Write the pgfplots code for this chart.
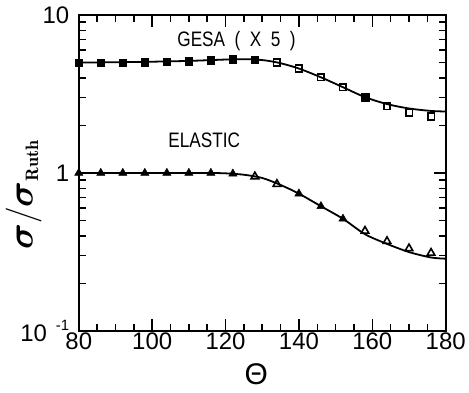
\RequirePackage{fix-cm}
\documentclass[border=0pt]{standalone}
\usepackage{fontspec}
\usepackage{amsmath}
\usepackage{pgfplots}
\pgfplotsset{compat=1.18}
\newfontfamily\hv{Liberation Sans}
\newfontfamily\hvn[FakeStretch=0.82]{Liberation Sans}
\begin{document}
\begin{tikzpicture}
\begin{axis}[
  name=ax,
  ymode=log,
  xmin=80, xmax=180, ymin=0.1, ymax=10,
  width=368pt, height=317pt, scale only axis,
  xtick={80,100,...,180}, minor x tick num=3,
  ytick={0.1,1,10},
  yticklabels={10\hspace{9pt}\raisebox{11pt}{\fontsize{15}{16}\selectfont -1},1,10},
  minor ytick={0.2,0.3,0.4,0.5,0.6,0.7,0.8,0.9,2,3,4,5,6,7,8,9},
  tick align=inside, xtick pos=both, ytick pos=both,
  major tick length=12pt, minor tick length=7pt,
  every tick/.style={black, line width=1.5pt},
  axis line style={line width=2pt},
  tick label style={font=\hv\fontsize{24}{26}\selectfont},
  yticklabel style={xshift=-6pt},
  xticklabel style={yshift=2pt},
  /pgf/number format/assume math mode=true,
  ylabel={$\boldsymbol{\sigma}/\boldsymbol{\sigma}_{\scriptscriptstyle\mathbf{Ruth}}$},
  ylabel style={font=\fontsize{36}{40}\selectfont, at={(axis description cs:-0.15,0.43)}, anchor=center},
  xlabel={\hv Θ},
  xlabel style={font=\fontsize{30}{32}\selectfont, at={(axis description cs:0.484,-0.135)}, anchor=center},
  clip=false,
]
% GESA curve
\addplot[black, line width=1.8pt, smooth, tension=0.5] coordinates {
(80,5.0)(90,5.02)(100,5.06)(110,5.12)(116,5.18)(122,5.24)(127,5.24)(131,5.15)(135,4.95)(140,4.58)(146,4.03)(152,3.49)(158,3.02)(164,2.73)(170,2.56)(176,2.47)(180,2.45)};
% Elastic curve
\addplot[black, line width=1.8pt, smooth, tension=0.5] coordinates {
(80,1)(100,1)(115,1.0)(120,0.995)(125,0.975)(130,0.93)(135,0.84)(140,0.74)(146,0.616)(152,0.513)(158,0.41)(164,0.356)(170,0.316)(176,0.292)(180,0.287)};
% GESA filled squares
\addplot[only marks, mark=square*, mark size=3.8pt, mark options={fill=black, draw=black}] coordinates {
(80,5.0)(86,5.0)(92,5.0)(98,5.02)(104,5.05)(110,5.08)(116,5.18)(122,5.25)(128,5.2)(158,3.02)};
% GESA open squares
\addplot[only marks, mark=square, mark size=3.3pt, mark options={draw=black, fill=white, line width=1.6pt}] coordinates {
(134,5.0)(140,4.58)(146,4.03)(152,3.49)(164,2.64)(170,2.41)(176,2.28)};
% Elastic filled triangles
\addplot[only marks, mark=triangle*, mark size=4.8pt, mark options={fill=black, draw=black}] coordinates {
(80,1.0)(86,1.0)(92,1.0)(98,1.0)(104,1.0)(110,1.0)(116,1.0)(122,0.99)(140,0.74)(146,0.616)(152,0.513)};
% Elastic open triangles
\addplot[only marks, mark=triangle, mark size=4.4pt, mark options={draw=black, fill=white, line width=1.6pt}] coordinates {
(128,0.95)(134,0.85)(158,0.43)(164,0.37)(170,0.333)(176,0.312)};
\node[font=\hvn\fontsize{21}{23}\selectfont] at (axis cs:123,6.8) {GESA\ \ (\ \ X\ \ 5\ \ )};
\node[font=\hvn\fontsize{21}{23}\selectfont] at (axis cs:114.2,1.6) {ELASTIC};
\end{axis}
\path ([shift={(-79pt,-62pt)}]ax.south west) rectangle ([shift={(22pt,15pt)}]ax.north east);
\end{tikzpicture}
\end{document}
